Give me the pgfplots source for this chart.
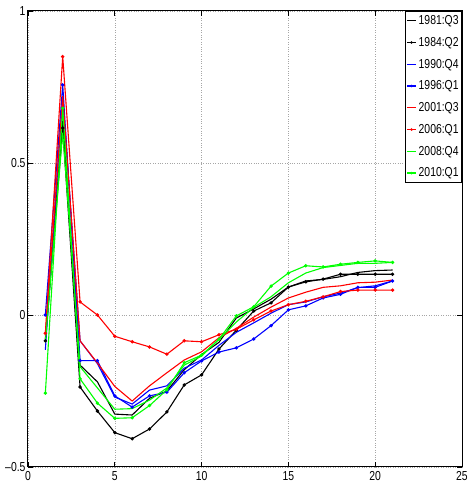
\documentclass[border=0pt]{standalone}
\usepackage{fontspec}
\setmainfont{Liberation Sans}[FakeStretch=0.8]
\usepackage{pgfplots}
\pgfplotsset{compat=1.18}
\pgfplotstableread{
x a b c d e f g h
1 -0.08 -0.085 -0.115 0.0 -0.07 -0.06 -0.09 -0.257
2 0.64 0.615 0.72 0.757 0.72 0.85 0.60 0.68
3 -0.165 -0.237 -0.085 -0.15 -0.085 0.043 -0.17 -0.21
4 -0.22 -0.316 -0.16 -0.15 -0.158 0.0 -0.24 -0.29
5 -0.326 -0.387 -0.27 -0.266 -0.235 -0.07 -0.31 -0.34
6 -0.329 -0.407 -0.293 -0.303 -0.283 -0.088 -0.308 -0.338
7 -0.274 -0.375 -0.247 -0.266 -0.233 -0.105 -0.28 -0.298
8 -0.25 -0.319 -0.233 -0.254 -0.19 -0.129 -0.24 -0.246
9 -0.18 -0.23 -0.175 -0.19 -0.148 -0.085 -0.165 -0.157
10 -0.13 -0.197 -0.148 -0.151 -0.121 -0.088 -0.135 -0.132
11 -0.09 -0.112 -0.10 -0.122 -0.075 -0.065 -0.08 -0.08
12 -0.01 -0.05 -0.057 -0.108 -0.044 -0.047 -0.023 -0.003
13 0.02 0.013 -0.026 -0.079 -0.007 -0.016 0.025 0.027
14 0.052 0.04 0.006 -0.035 0.026 0.013 0.06 0.095
15 0.092 0.092 0.034 0.017 0.056 0.034 0.106 0.138
16 0.112 0.109 0.043 0.030 0.075 0.045 0.138 0.162
17 0.117 0.118 0.06 0.056 0.091 0.06 0.156 0.158
18 0.126 0.134 0.072 0.068 0.096 0.077 0.163 0.167
19 0.14 0.134 0.09 0.091 0.106 0.082 0.17 0.173
20 0.146 0.134 0.096 0.091 0.108 0.082 0.17 0.178
21 0.148 0.134 0.112 0.112 0.115 0.082 0.173 0.173
}\data
\newcommand{\legline}[1]{\addlegendimage{legend image code/.code={%
  \pgfsetstrokecolor{#1}\pgfsetlinewidth{1.3pt}%
  \pgfpathmoveto{\pgfpoint{0pt}{0pt}}\pgfpathlineto{\pgfpoint{9pt}{0pt}}\pgfusepath{stroke}}}}
\newcommand{\legmark}[1]{\addlegendimage{legend image code/.code={%
  \pgfsetstrokecolor{#1}\pgfsetfillcolor{#1}\pgfsetlinewidth{1.3pt}%
  \pgfpathmoveto{\pgfpoint{0pt}{0pt}}\pgfpathlineto{\pgfpoint{9pt}{0pt}}\pgfusepath{stroke}%
  \pgfpathcircle{\pgfpoint{4.5pt}{0pt}}{1.4pt}\pgfusepath{fill}}}}
\begin{document}
\begin{tikzpicture}
\begin{axis}[
  scale only axis,
  width=434pt, height=456pt,
  xmin=0, xmax=25, ymin=-0.5, ymax=1,
  xtick={0,5,10,15,20,25},
  ytick={-0.5,0,0.5,1},
  yticklabels={\textendash0.5,0,0.5,1},
  tick align=inside,
  xtick pos=both, ytick pos=both,
  major tick length=5pt,
  grid=major,
  major grid style={dotted, gray!70, line width=0.5pt},
  axis line style={line width=1pt},
  tick style={line width=0.6pt, black},
  ticklabel style={font=\fontsize{13}{15}\selectfont},
  yticklabel style={xshift=1pt},
  /pgf/number format/assume math mode=true,
  xticklabel style={yshift=-1pt},
  legend style={font=\fontsize{13}{14}\selectfont, line width=0.8pt, inner xsep=1pt, inner ysep=2pt,
    row sep=7.2pt, cells={anchor=west}, at={(1,1)}, anchor=north east},
  legend cell align=left,
  every axis plot/.append style={line width=1.1pt},
]
\addplot[black, mark=none, forget plot] table[x=x,y=a]{\data};
\addplot[black, mark=*, mark size=1.1pt, forget plot] table[x=x,y=b]{\data};
\addplot[blue, mark=none, forget plot] table[x=x,y=c]{\data};
\addplot[blue, mark=*, mark size=1.1pt, forget plot] table[x=x,y=d]{\data};
\addplot[red, mark=none, forget plot] table[x=x,y=e]{\data};
\addplot[red, mark=*, mark size=1.1pt, forget plot] table[x=x,y=f]{\data};
\addplot[green, mark=none, forget plot] table[x=x,y=g]{\data};
\addplot[green, mark=*, mark size=1.1pt, forget plot] table[x=x,y=h]{\data};
\legline{black}
\addlegendentry{1981:Q3}
\legmark{black}
\addlegendentry{1984:Q2}
\legline{blue}
\addlegendentry{1990:Q4}
\legmark{blue}
\addlegendentry{1996:Q1}
\legline{red}
\addlegendentry{2001:Q3}
\legmark{red}
\addlegendentry{2006:Q1}
\legline{green}
\addlegendentry{2008:Q4}
\legmark{green}
\addlegendentry{2010:Q1}
\end{axis}
\pgfresetboundingbox
\path ([xshift=-28pt,yshift=-29pt]current axis.south west) rectangle ([xshift=8pt,yshift=11pt]current axis.north east);
\end{tikzpicture}
\end{document}
